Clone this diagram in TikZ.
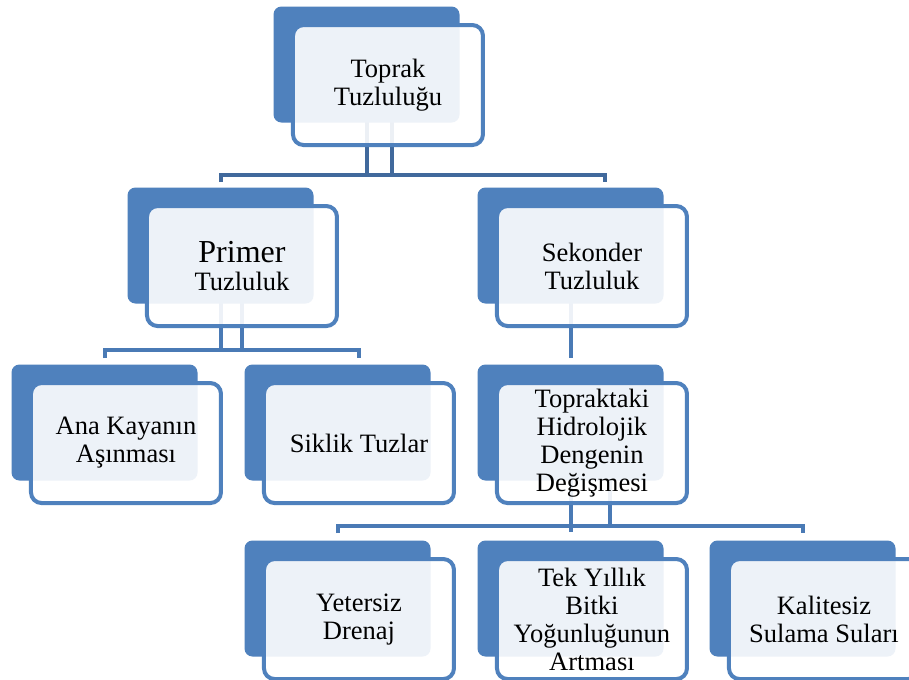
\documentclass[tikz,border=0pt]{standalone}
\usepackage{fontspec}
\setmainfont{Liberation Serif}
\usetikzlibrary{positioning}
\pgfdeclarelayer{bg}
\pgfsetlayers{bg,main}
\definecolor{boxblue}{HTML}{4F81BD}
\definecolor{linkblue}{HTML}{4A7AB5}
\definecolor{linkdark}{HTML}{41699C}
\tikzset{
  backbox/.style={fill=boxblue,rounded corners=6pt,minimum width=139.5pt,minimum height=87pt,inner sep=0pt},
  frontbox/.style={draw=boxblue,line width=3pt,fill=white,fill opacity=0.9,text opacity=1,rounded corners=8pt,
    minimum width=142.5pt,minimum height=90pt,inner sep=0pt,align=center,on grid,
    font=\fontsize{19.9}{21}\selectfont},
  link/.style={draw=linkblue,line width=3pt},
  toplink/.style={link,draw=linkdark}
}

\begin{document}
\begin{tikzpicture}[x=0.75pt,y=-0.75pt]
\useasboundingbox (0,0) rectangle (909,679);
\clip (0,0) rectangle (909,679);
% level 0
\node[backbox] (toprakB) at (366.5,64.5) {};
\node[frontbox,below right=15.4pt and 16.1pt of toprakB] (toprak) {Toprak\\Tuzluluğu};
% level 1
\node[backbox] (primerB) at (220.5,245.5) {};
\node[frontbox,below right=15.4pt and 16.1pt of primerB] (primer) {{\fontsize{24}{26}\selectfont Primer}\\Tuzluluk};
\node[backbox] (sekonderB) at (570.5,245.5) {};
\node[frontbox,below right=15.4pt and 16.1pt of sekonderB] (sekonder) {Sekonder\\Tuzluluk};
% level 2
\node[backbox] (anaB) at (104.5,422.5) {};
\node[frontbox,below right=15.4pt and 16.1pt of anaB] (ana) {Ana Kayanın\\Aşınması};
\node[backbox] (siklikB) at (337.5,422.5) {};
\node[frontbox,below right=15.4pt and 16.1pt of siklikB] (siklik) {Siklik Tuzlar};
\node[backbox] (hidroB) at (570.5,422.5) {};
\node[frontbox,below right=15.4pt and 16.1pt of hidroB] (hidro) {Topraktaki\\Hidrolojik\\Dengenin\\Değişmesi};
% level 3
\node[backbox] (drenajB) at (337.5,598.5) {};
\node[frontbox,below right=15.4pt and 16.1pt of drenajB] (drenaj) {Yetersiz\\Drenaj};
\node[backbox] (bitkiB) at (570.5,598.5) {};
\node[frontbox,below right=15.4pt and 16.1pt of bitkiB] (bitki) {Tek Yıllık\\Bitki\\Yoğunluğunun\\Artması};
\node[backbox] (sulamaB) at (802.5,598.5) {};
\node[frontbox,below right=15.4pt and 16.1pt of sulamaB] (sulama) {Kalitesiz\\Sulama Suları};

% connectors behind the boxes
\begin{pgfonlayer}{bg}
\fill[white] (0,0) rectangle (909,679);
\coordinate (bus1) at (388,175);
\coordinate (bus2) at (242,350);
\coordinate (bus3) at (592,526);
\draw[toplink] (toprakB.center) -- (toprakB.center |- bus1);
\draw[toplink] ([xshift=3pt]toprak.center) -- ([xshift=3pt]toprak.center |- bus1);
\draw[toplink] (primerB.center |- bus1) ++(0,7) -- ++(0,-7) -- ([xshift=10pt]sekonder.center |- bus1) -- ++(0,7);
\draw[link] (primerB.center) -- (primerB.center |- bus2);
\draw[link] (primer.center) -- (primer.center |- bus2);
\draw[link] (anaB.center |- bus2) ++(0,8) -- ++(0,-8) -- (siklik.center |- bus2) -- ++(0,8);
\draw[link] (sekonderB.center) -- ([yshift=5pt]hidroB.north);
\draw[link] (hidroB.center) -- ([yshift=6pt]bitkiB.north);
\draw[link] ([xshift=13.5pt]hidro.center) -- ([xshift=13.5pt]hidro.center |- bus3);
\draw[link] (drenajB.center |- bus3) ++(0,7) -- ++(0,-7) -- (sulamaB.center |- bus3) -- ++(0,7);
\end{pgfonlayer}
\end{tikzpicture}
\end{document}
